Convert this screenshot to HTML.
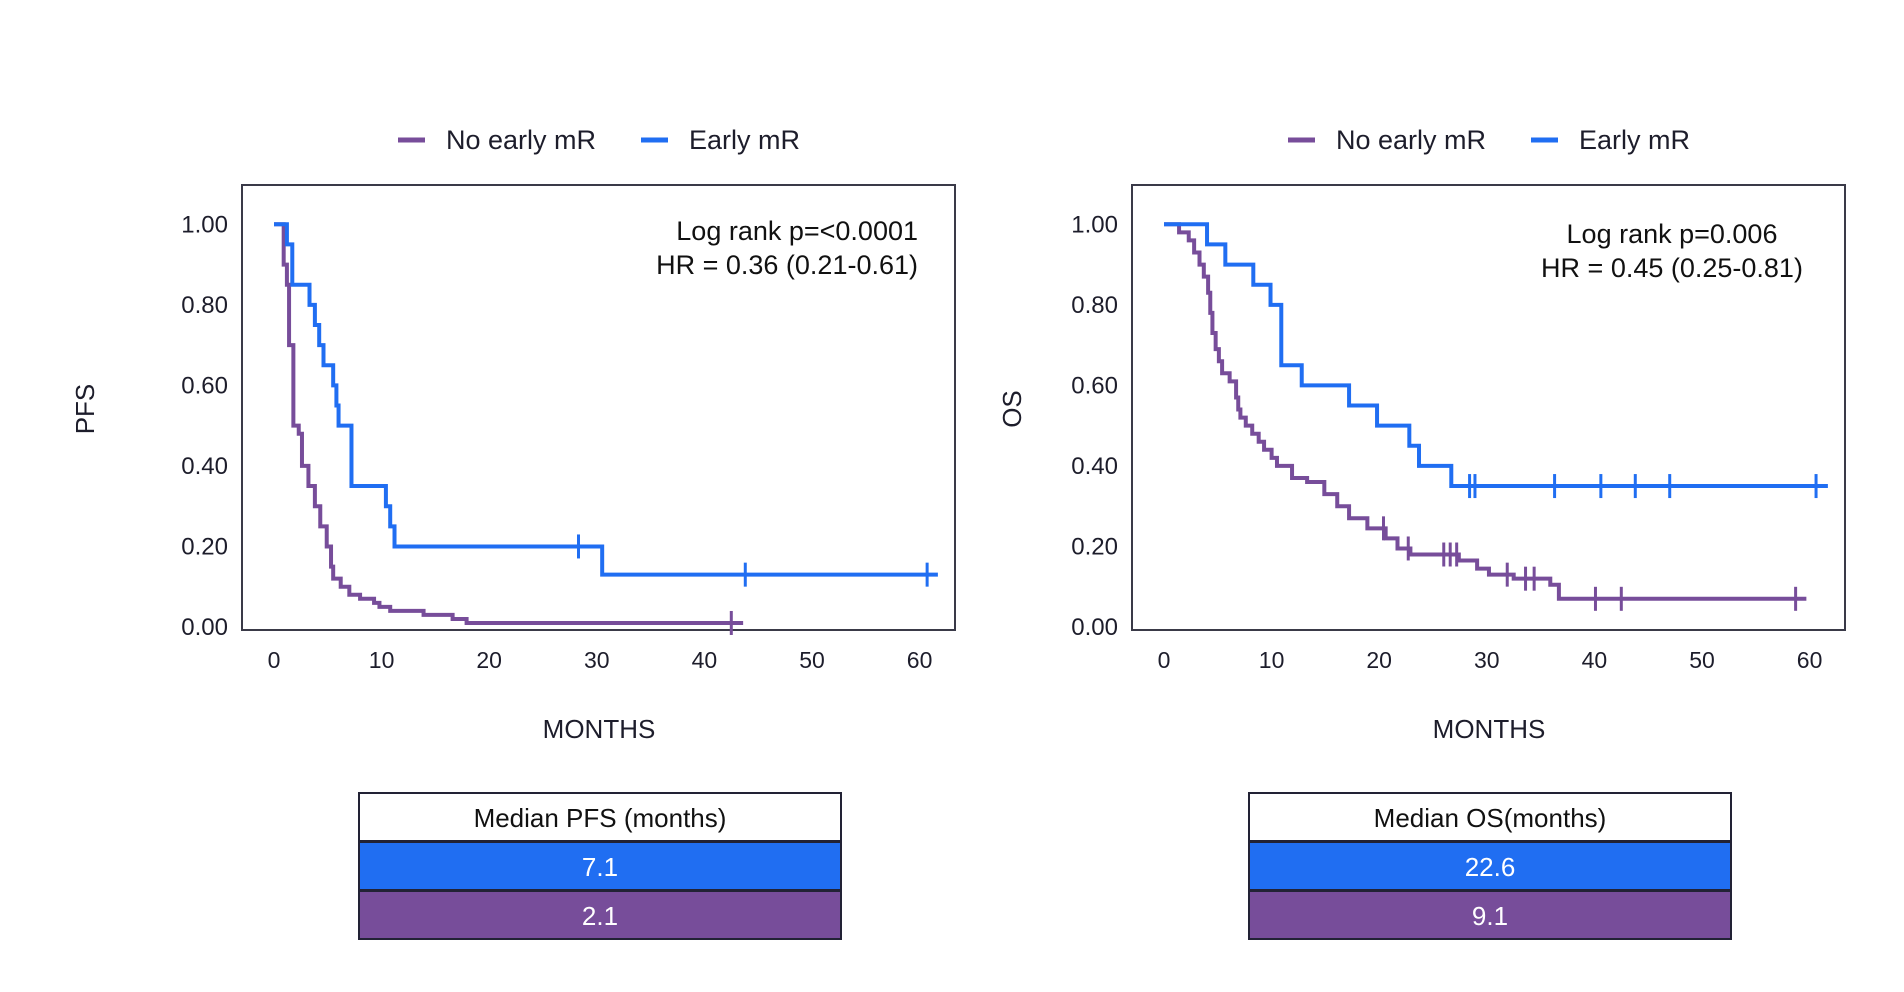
<!DOCTYPE html>
<html><head><meta charset="utf-8"><style>
html,body{margin:0;padding:0;background:#fff;}
svg{display:block;font-family:"Liberation Sans",sans-serif;}
</style></head><body>
<svg id="chart" width="1904" height="992" viewBox="0 0 1904 992"></svg>
<script>
// ---- data ----
const pfsEarlyTimes=[1.2,1.7,3.3,3.8,4.2,4.6,5.5,5.8,6.0,7.2,10.4,10.8,11.2,30.5];
const pfsEarlySurv=[0.95,0.85,0.80,0.75,0.70,0.65,0.60,0.55,0.50,0.35,0.30,0.25,0.20,0.13];
const pfsEarlyEnd=61.7;
const pfsEarlyCensor=[28.3,43.8,60.7];
const pfsNoTimes=[0.9,1.2,1.4,1.8,2.3,2.6,3.2,3.8,4.3,4.9,5.3,5.5,6.2,7.0,8.0,9.3,9.8,10.8,13.9,16.6,17.9];
const pfsNoSurv=[0.9,0.85,0.7,0.5,0.48,0.40,0.35,0.30,0.25,0.20,0.15,0.12,0.10,0.08,0.07,0.06,0.05,0.04,0.03,0.02,0.01];
const pfsNoEnd=43.6;
const pfsNoCensor=[42.5];
const osEarlyTimes=[4.0,5.7,8.3,9.9,10.9,12.8,17.2,19.8,22.8,23.7,26.7];
const osEarlySurv=[0.95,0.90,0.85,0.80,0.65,0.60,0.55,0.50,0.45,0.40,0.35];
const osEarlyEnd=61.7;
const osEarlyCensor=[28.4,28.9,36.3,40.6,43.8,47,60.6];
const osNoTimes=[1.4,2.3,2.8,3.3,3.7,4.1,4.3,4.5,4.8,5.1,5.4,6.1,6.7,6.9,7.1,7.6,8.2,8.8,9.3,10.0,10.5,11.9,13.3,14.9,16.1,17.2,18.9,20.6,21.7,22.9,27.4,29.1,30.2,32.5,35.9,36.7];
const osNoSurv=[0.98,0.96,0.93,0.90,0.87,0.83,0.78,0.73,0.69,0.66,0.63,0.61,0.57,0.54,0.52,0.50,0.48,0.46,0.44,0.42,0.40,0.37,0.36,0.33,0.30,0.27,0.245,0.22,0.195,0.18,0.165,0.145,0.13,0.12,0.105,0.07];
const osNoEnd=59.7;
const osNoCensor=[20.4,22.7,26,26.6,27.2,31.9,33.6,34.4,40.1,42.5,58.7];
const xTicks=[0,10,20,30,40,50,60];
const yTicks=[0,0.2,0.4,0.6,0.8,1.0];
const medianPfs=["7.1","2.1"];
const medianOs=["22.6","9.1"];

const BLUE="#206ef2", PURPLE="#774d9a", TXT="#1d1d2b";
const svg=document.getElementById('chart');
const NS="http://www.w3.org/2000/svg";
function mk(tag,attrs,parent,text){const e=document.createElementNS(NS,tag);for(const k in attrs)e.setAttribute(k,attrs[k]);if(text!==undefined)e.textContent=text;(parent||svg).appendChild(e);return e;}

function panel(ox,name,ylab,yx,ann,annAnchor,annX,annY,early,no,tableTitle,medians){
  const g=mk('g',{});
  
  
  const x0=ox+32, xs=10.76, y0=627, ys=402.7;
  const X=t=>x0+t*xs, Y=s=>y0-s*ys;
  const box=mk('rect',{x:ox,y:185,width:713,height:445,fill:'none',stroke:'#3a3a48','stroke-width':2},g);
  
  
  yTicks.forEach(v=>{const t=mk('text',{x:ox-14,y:Y(v)+8,'text-anchor':'end','font-size':24,fill:TXT},g,v.toFixed(2));
    
    });
  xTicks.forEach(v=>{const t=mk('text',{x:X(v),y:668,'text-anchor':'middle','font-size':23,fill:TXT},g,String(v));
    
    });
  const xt=mk('text',{x:ox+357,y:738,'text-anchor':'middle','font-size':26,fill:TXT},g,'MONTHS');
  
  
  const yt=mk('text',{x:yx,y:409,'text-anchor':'middle','font-size':26,fill:TXT,transform:`rotate(-90 ${yx} 409)`},g,ylab);
  
  
  ann.forEach((s,i)=>{const t=mk('text',{x:annX,y:annY+i*34,'text-anchor':annAnchor,'font-size':27,fill:'#111'},g,s);
    
    });
  [[no,PURPLE,'no-early-mr-curve'],[early,BLUE,'early-mr-curve']].forEach(([d,c,nm])=>{
    const [times,surv,end,cens]=d;
    let p=`M${X(0)},${Y(1)}`;
    times.forEach((t,i)=>{p+=` H${X(t)} V${Y(surv[i])}`;});
    p+=` H${X(end)}`;
    const path=mk('path',{d:p,fill:'none',stroke:c,'stroke-width':4},g);
    
    
    cens.forEach(t=>{let v=1;times.forEach((tt,i)=>{if(tt<=t)v=surv[i];});
      const l=mk('line',{x1:X(t),x2:X(t),y1:Y(v)-12,y2:Y(v)+12,stroke:c,'stroke-width':3},g);
      
      });
  });
  const lx=ox+156;
  [['No early mR',PURPLE,0],['Early mR',BLUE,243]].forEach(([t,c,dx])=>{
    const l=mk('line',{x1:lx+dx,x2:lx+dx+27,y1:140,y2:140,stroke:c,'stroke-width':5},g);
    
    
    const tx=mk('text',{x:lx+dx+48,y:149,'font-size':27,fill:TXT},g,t);
    
    
  });
  const tx0=ox+117, tw=482;
  const rows=[['#fff',tableTitle,'#111'],[BLUE,medians[0],'#fff'],[PURPLE,medians[1],'#fff']];
  rows.forEach((r,i)=>{const y=793+i*49;
    const rc=mk('rect',{x:tx0,y:y,width:tw,height:48,fill:r[0],stroke:'#222235','stroke-width':2},g);
    
    
    const t=mk('text',{x:tx0+tw/2,y:y+34,'text-anchor':'middle','font-size':26,fill:r[2]},g,r[1]);
    
    
  });
}
panel(242,'pfs','PFS',94,['Log rank p=<0.0001','HR = 0.36 (0.21-0.61)'],'end',918,240,
  [pfsEarlyTimes,pfsEarlySurv,pfsEarlyEnd,pfsEarlyCensor],[pfsNoTimes,pfsNoSurv,pfsNoEnd,pfsNoCensor],'Median PFS (months)',medianPfs);
panel(1132,'os','OS',1021,['Log rank p=0.006','HR = 0.45 (0.25-0.81)'],'middle',1672,243,
  [osEarlyTimes,osEarlySurv,osEarlyEnd,osEarlyCensor],[osNoTimes,osNoSurv,osNoEnd,osNoCensor],'Median OS(months)',medianOs);
</script>
</body></html>
